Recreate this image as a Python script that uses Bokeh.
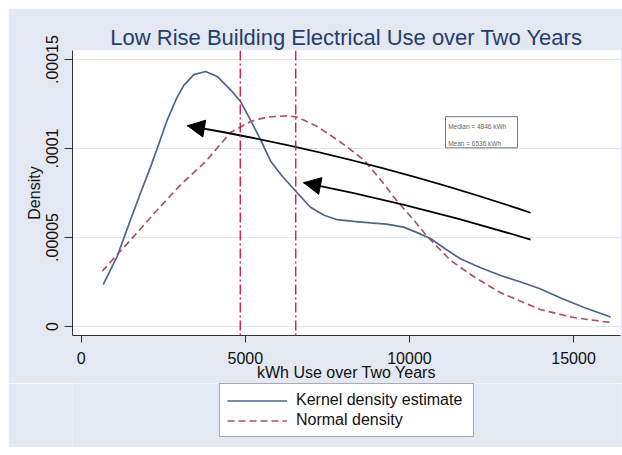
from bokeh.plotting import figure
from bokeh.models import (Range1d, FixedTicker, CustomJSTickFormatter, Span, Legend,
                          LegendItem, Arrow, NormalHead, Spacer)
from bokeh.layouts import column, row
from bokeh.embed import file_html
from bokeh.resources import INLINE
from bokeh.core.properties import value

# ---------------- data ----------------
kde_x = [670, 1097, 1503, 1807, 2100, 2315, 2620, 2900, 3126, 3430, 3787, 4143, 4549, 4853,
         5158, 5463, 5768, 6100, 6536, 6986, 7400, 7800, 8300, 8815, 9300, 9820, 10200,
         10640, 11100, 11550, 12170, 12800, 13390, 13980, 14610, 15300, 16130]
kde_y = [2.35e-5, 3.94e-5, 6.0e-5, 7.5e-5, 8.9e-5, 1.0e-4, 1.16e-4, 1.28e-4, 1.355e-4,
         1.415e-4, 1.433e-4, 1.405e-4, 1.33e-4, 1.265e-4, 1.16e-4, 1.05e-4, 9.3e-5, 8.5e-5,
         7.6e-5, 6.7e-5, 6.25e-5, 6.0e-5, 5.9e-5, 5.82e-5, 5.75e-5, 5.58e-5, 5.3e-5, 4.94e-5,
         4.35e-5, 3.8e-5, 3.3e-5, 2.85e-5, 2.5e-5, 2.12e-5, 1.6e-5, 1.08e-5, 5.3e-6]

norm_x = [640, 1603, 2417, 3000, 3635, 3839, 4549, 5158, 5667, 6277, 6582, 7191, 7800, 8205,
          8601, 9119, 9628, 10125, 10540, 11252, 12000, 12770, 13980, 15000, 16110]
norm_y = [3.1e-5, 5.06e-5, 6.75e-5, 7.9e-5, 9.0e-5, 9.37e-5, 1.09e-4, 1.152e-4, 1.177e-4,
          1.184e-4, 1.177e-4, 1.124e-4, 1.049e-4, 9.94e-5, 9.37e-5, 8.25e-5, 7.03e-5, 6.0e-5,
          5.06e-5, 3.71e-5, 2.75e-5, 1.9e-5, 9.5e-6, 5.0e-6, 2.2e-6]

median_kwh = 4846
mean_kwh = 6536

x_ticks = [0, 5000, 10000, 15000]
y_ticks = [0, 0.00005, 0.0001, 0.00015]

title_text = "Low Rise Building Electrical Use over Two Years"
x_label = "kWh Use over Two Years"
y_label = "Density"
legend_labels = ["Kernel density estimate", "Normal density"]

# annotation box (data units) and its text
note_box = [11100, 13294, 1.004e-4, 1.179e-4]   # left, right, bottom, top
note_text = ["Median = 4846 kWh", "Mean = 6536 kWh"]
note_text_x = [11180, 11180]
note_text_y = [1.122e-4, 1.03e-4]

# arrows: tail, control, tip (data units)
arrow_tail_x = [13690, 13690]
arrow_tail_y = [6.39e-5, 4.88e-5]
arrow_ctrl_x = [8458, 10186]
arrow_ctrl_y = [9.65e-5, 6.84e-5]
arrow_tip_x = [3239, 6777]
arrow_tip_y = [1.128e-4, 8.08e-5]

FONT = "Liberation Sans"
BG = "#e4e8f2"
KDE_COLOR = "#4e6488"
NORM_COLOR = "#ad5363"
LABEL_SIZE = "16px"

p = figure(width=614, height=375, output_backend="svg", toolbar_location=None,
           x_range=Range1d(-265, 16430), y_range=Range1d(-5.1e-6, 1.551e-4),
           min_border_left=64, min_border_right=2, min_border_top=42, min_border_bottom=48)

p.background_fill_color = "white"
p.border_fill_color = BG
p.outline_line_color = None

p.title.text = title_text
p.title.align = "center"
p.title.text_font = FONT
p.title.text_font_size = "22px"
p.title.text_font_style = "normal"
p.title.text_color = "#243e6b"
p.title.standoff = 1

p.xgrid.visible = False
p.ygrid.ticker = FixedTicker(ticks=y_ticks)
p.ygrid.grid_line_color = "#e3e7ef"
p.ygrid.grid_line_width = 1

xa = p.xaxis[0]
xa.ticker = FixedTicker(ticks=x_ticks)
xa.axis_label = x_label
xa.major_tick_out = 7
xa.major_tick_in = 0
xa.minor_tick_out = 0
xa.major_label_standoff = 9
xa.axis_label_standoff = -3

ya = p.yaxis[0]
ya.ticker = FixedTicker(ticks=y_ticks)
ya.formatter = CustomJSTickFormatter(code="""
if (Math.abs(tick) < 1e-12) return "0";
let s = tick.toFixed(5).replace(/0+$/, "");
return s.replace(/^0/, "");
""")
ya.major_label_orientation = "vertical"
ya.axis_label = y_label
ya.major_tick_out = 8
ya.major_tick_in = 0
ya.minor_tick_out = 0
ya.major_label_standoff = 6
ya.axis_label_standoff = 1

for ax in (xa, ya):
    ax.axis_line_color = "#333333"
    ax.major_tick_line_color = "#333333"
    ax.major_label_text_font = FONT
    ax.major_label_text_font_size = LABEL_SIZE
    ax.major_label_text_color = "#111111"
    ax.axis_label_text_font = FONT
    ax.axis_label_text_font_size = LABEL_SIZE
    ax.axis_label_text_font_style = "normal"
    ax.axis_label_text_color = "#111111"

# median / mean reference lines
for loc in (median_kwh, mean_kwh):
    p.add_layout(Span(location=loc, dimension="height", line_color="#d41c4a",
                      line_dash="10 3 2 3", line_width=1.4))

p.line(kde_x, kde_y, line_color=KDE_COLOR, line_width=1.7)
p.line(norm_x, norm_y, line_color=NORM_COLOR, line_width=1.7, line_dash="7 4")

# annotation box
p.quad(left=[note_box[0]], right=[note_box[1]], bottom=[note_box[2]], top=[note_box[3]],
       fill_color="white", line_color="#777777", line_width=1)
p.text(x=note_text_x, y=note_text_y, text=note_text, text_font=value(FONT),
       text_font_size="6.5px", text_color="#666666", text_baseline="middle")

# arrows
p.quadratic(x0=arrow_tail_x, y0=arrow_tail_y, x1=arrow_tip_x, y1=arrow_tip_y,
            cx=arrow_ctrl_x, cy=arrow_ctrl_y, line_color="black", line_width=1.8)
for i in range(len(arrow_tip_x)):
    p.add_layout(Arrow(end=NormalHead(size=17, fill_color="black", line_color="black"),
                       x_start=arrow_ctrl_x[i], y_start=arrow_ctrl_y[i],
                       x_end=arrow_tip_x[i], y_end=arrow_tip_y[i], line_alpha=0))

# legend strip below the chart
p2 = figure(width=614, height=64, output_backend="svg", toolbar_location=None,
            x_axis_type=None, y_axis_type=None,
            x_range=Range1d(0, 1), y_range=Range1d(0, 1),
            min_border_left=64, min_border_right=2, min_border_top=0, min_border_bottom=0)
p2.background_fill_color = BG
p2.border_fill_color = BG
p2.outline_line_color = None
p2.grid.visible = False
kde_leg = p2.line([5, 6], [5, 6], line_color=KDE_COLOR, line_width=1.7)
nrm_leg = p2.line([5, 6], [5, 6], line_color=NORM_COLOR, line_width=1.7, line_dash="7 4")

legend = Legend(items=[LegendItem(label=legend_labels[0], renderers=[kde_leg]),
                       LegendItem(label=legend_labels[1], renderers=[nrm_leg])],
                location=(147, 10), orientation="vertical",
                label_text_font=FONT, label_text_font_size=LABEL_SIZE,
                label_text_color="#111111",
                glyph_width=60, glyph_height=17, label_height=17, label_width=170,
                label_standoff=9, padding=7, spacing=2, margin=0,
                border_line_color="#555555", border_line_width=1,
                background_fill_color="white")
p2.add_layout(legend)

layout = column(Spacer(width=622, height=8),
                row(Spacer(width=8, height=439), column(p, p2)))

open("out.html", "w").write(file_html(layout, INLINE))
